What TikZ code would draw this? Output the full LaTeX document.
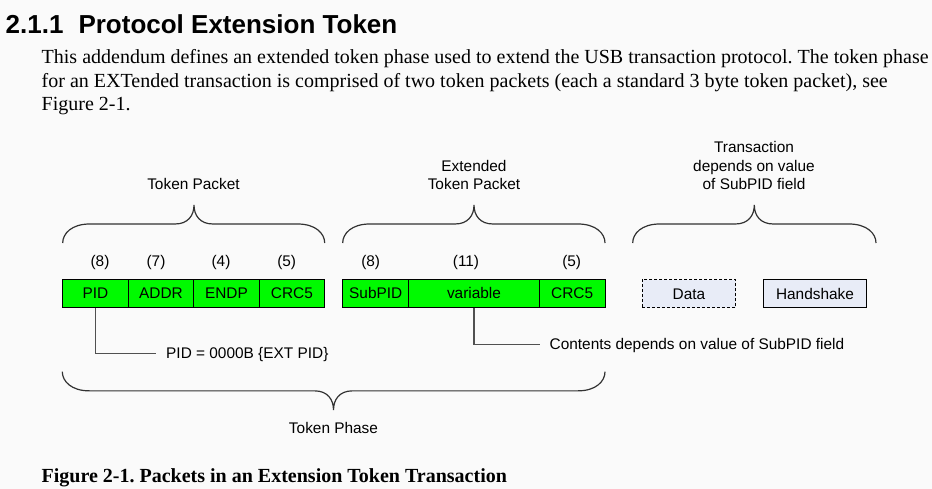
\documentclass[tikz,border=0pt]{standalone}
\usepackage{fontspec}
\setmainfont{Liberation Serif}
\newfontfamily\arialfont{Liberation Sans}
\frenchspacing
\definecolor{bgcol}{RGB}{250,250,250}
\definecolor{fieldgreen}{RGB}{0,250,0}
\definecolor{phasefill}{RGB}{232,236,247}
\definecolor{linegray}{RGB}{50,50,50}
\definecolor{conngray}{RGB}{80,80,80}
\newcommand\mybrace[5]{%
  \pgfmathsetmacro\bym{(#4+#5)/2}%
  \pgfmathsetmacro\byc{#4+0.5*(\bym-#4)}%
  \pgfmathsetmacro\byt{\bym+0.45*(#5-\bym)}%
  \draw[bracestyle] (#1,#4) .. controls (#1,\byc) and (#1+9,\bym) .. (#1+27,\bym)
    -- (#3-19,\bym) .. controls (#3-6,\bym) and (#3,\byt) .. (#3,#5)
    .. controls (#3,\byt) and (#3+6,\bym) .. (#3+19,\bym)
    -- (#2-27,\bym) .. controls (#2-9,\bym) and (#2,\byc) .. (#2,#4);%
}
\begin{document}
\begin{tikzpicture}[x=1pt,y=-1pt,
  diag/.style={font=\arialfont\fontsize{15.4}{18.6}\selectfont, inner sep=0pt},
  field/.style={diag, draw=black, line width=0.9pt, fill=fieldgreen,
    minimum height=28pt, text height=12pt, text depth=1pt},
  phasebox/.style={diag, draw=black, line width=0.9pt, fill=phasefill,
    minimum height=28pt, text height=12pt, text depth=1pt},
  bits/.style={diag, anchor=base},
  lbl/.style={diag, anchor=west, text height=12pt, text depth=1pt},
  bracestyle/.style={draw=linegray, line width=1.2pt},
  conn/.style={draw=conngray, line width=1.2pt},
  body/.style={anchor=base west, inner sep=0pt, font=\fontsize{20}{23.4}\selectfont}
]
\fill[bgcol] (0,0) rectangle (932,489);
\useasboundingbox (0,0) rectangle (932,489);

% heading and body text
\node[anchor=base west, inner sep=0pt, font=\arialfont\bfseries\fontsize{26}{30}\selectfont] (title) at (5.5,34) {2.1.1\hspace{15pt}Protocol Extension Token};
\node[body] (l1) at (41.5,64) {This addendum defines an extended token phase used to extend the USB transaction protocol. The token phase};
\node[body] (l2) at (41.5,87.3) {for an EXTended transaction is comprised of two token packets (each a standard 3 byte token packet), see};
\node[body] (l3) at (41.5,110.7) {Figure 2-1.};

% token packet
\node[field, minimum width=65.5pt] (pid) at (95.45,293.3) {PID};
\node[field, minimum width=65.5pt] (addr) at (160.95,293.3) {ADDR};
\node[field, minimum width=65.5pt] (endp) at (226.45,293.3) {ENDP};
\node[field, minimum width=65.5pt] (crc1) at (291.95,293.3) {CRC5};
\node[bits] (b1) at (100,267) {(8)};
\node[bits] (b2) at (156,267) {(7)};
\node[bits] (b3) at (221,267) {(4)};
\node[bits] (b4) at (286.7,267) {(5)};
\mybrace{62.7}{324.7}{194}{243}{205}
\node[diag, anchor=base] (tp) at (193.5,189.8) {Token Packet};

% extended token packet
\node[field, minimum width=66pt] (subpid) at (375.7,293.3) {SubPID};
\node[field, minimum width=130.6pt] (var) at (474,293.3) {variable};
\node[field, minimum width=65.7pt] (crc2) at (572.15,293.3) {CRC5};
\node[bits] (b5) at (370.7,267) {(8)};
\node[bits] (b6) at (466,267) {(11)};
\node[bits] (b7) at (571.7,267) {(5)};
\mybrace{342.7}{605}{474}{243}{205}
\node[diag, align=center, anchor=base] (etp) at (474,189.8) {Extended\\Token Packet};

% transaction
\node[phasebox, dashed, dash pattern=on 3pt off 2pt, minimum width=93.7pt] (data) at (688.9,293.5) {Data};
\node[phasebox, minimum width=103.4pt] (hs) at (815,293.5) {Handshake};
\mybrace{632.7}{876}{754.3}{243}{205}
\node[diag, align=center, anchor=base] (tr) at (754,189.8) {Transaction\\depends on value\\of SubPID field};

% annotations
\node[lbl] (pidlbl) at (166,353.3) {PID = 0000B \{EXT PID\}};
\draw[conn] (pid.south) |- ([xshift=-10pt]pidlbl.west);
\node[lbl] (varlbl) at (549.5,344.3) {Contents depends on value of SubPID field};
\draw[conn] (var.south) |- ([xshift=-10pt]varlbl.west);

% token phase
\mybrace{62.3}{605}{333.5}{371.7}{410}
\node[diag, anchor=base] (phase) at (333.5,433.2) {Token Phase};

% caption
\node[anchor=base west, inner sep=0pt, font=\bfseries\fontsize{20}{24}\selectfont] (cap) at (41.5,482) {Figure 2-1. Packets in an Extension Token Transaction};
\end{tikzpicture}
\end{document}
